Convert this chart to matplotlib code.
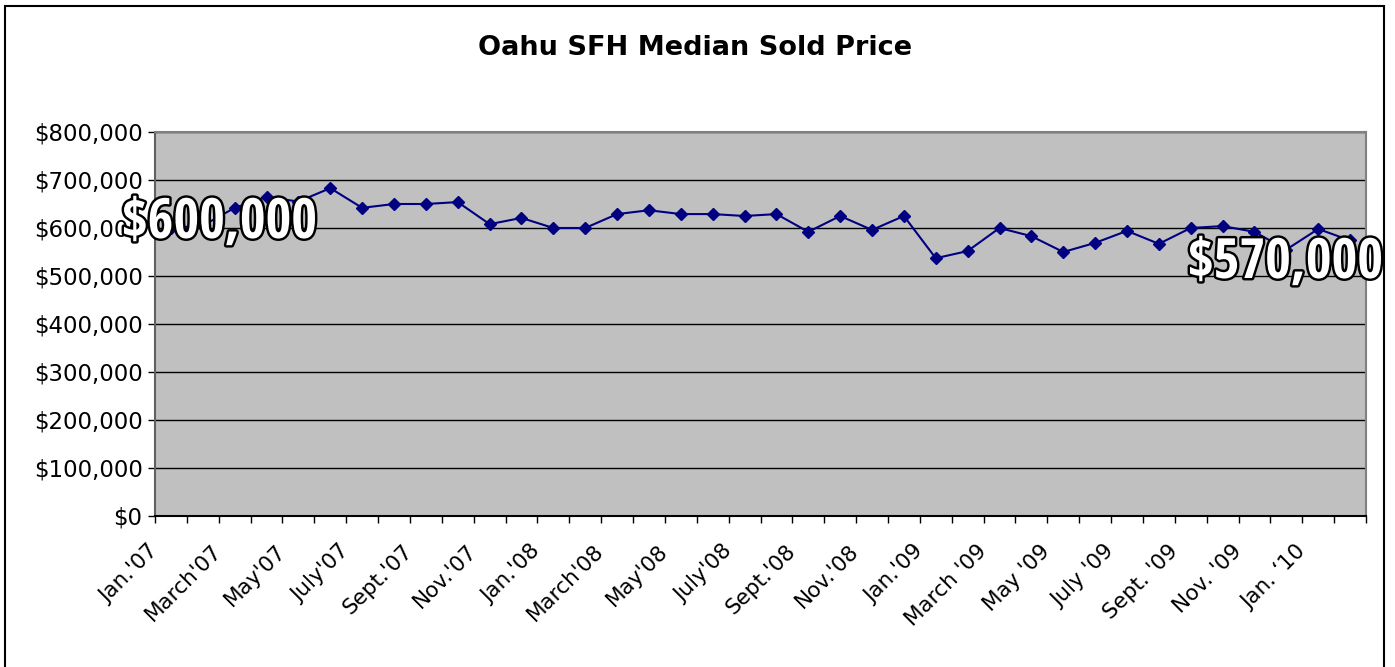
import matplotlib
matplotlib.use('Agg')
import matplotlib.pyplot as plt
import matplotlib.patheffects as pe
from matplotlib import font_manager
from matplotlib.patches import Rectangle
from matplotlib.ticker import FuncFormatter, FixedLocator
from matplotlib.transforms import ScaledTranslation

# Monthly median sold price, Jan '07 .. Feb '10
months = ["Jan.'07", "Feb.'07", "March'07", "April'07", "May'07", "June'07",
          "July'07", "Aug.'07", "Sept.'07", "Oct.'07", "Nov.'07", "Dec.'07",
          "Jan.'08", "Feb.'08", "March'08", "April'08", "May'08", "June'08",
          "July'08", "Aug.'08", "Sept.'08", "Oct.'08", "Nov.'08", "Dec.'08",
          "Jan.'09", "Feb.'09", "March '09", "April '09", "May '09", "June '09",
          "July '09", "Aug. '09", "Sept. '09", "Oct. '09", "Nov. '09", "Dec. '09",
          "Jan. \u201810", "Feb. '10"]
prices = [600000, 605000, 642000, 665000, 655000, 683000,
          642000, 650000, 650000, 654000, 608000, 621000,
          600000, 600000, 629000, 637000, 629000, 629000,
          625000, 629000, 592000, 625000, 596000, 625000,
          537000, 552000, 600000, 583000, 550000, 569000,
          594000, 567000, 600000, 604000, 592000, 555000,
          598000, 574000]
callout_start = "$600,000"
callout_end = "$570,000"
y_ticks = [0, 100000, 200000, 300000, 400000, 500000, 600000, 700000, 800000]


def narrow_bold_font():
    # look for an installed condensed / narrow bold face for the big callouts
    best = None
    for f in font_manager.fontManager.ttflist:
        name = (f.name + ' ' + str(f.stretch) + ' ' + f.fname).lower()
        if ('condensed' in name or 'narrow' in name) and 'semi' not in name and 'extra' not in name:
            if f.weight in ('bold', 700) or 'bold' in f.fname.lower():
                if 'italic' not in f.fname.lower() and 'oblique' not in f.fname.lower():
                    if best is None or 'sans' in f.name.lower():
                        best = f
    if best is not None:
        return font_manager.FontProperties(fname=best.fname, size=40), True
    return font_manager.FontProperties(family='DejaVu Sans', weight='bold', size=28), False


W, H = 1395, 667
fig = plt.figure(figsize=(W / 100, H / 100), dpi=100)
fig.patch.set_facecolor('white')

# outer chart frame
fig.add_artist(Rectangle((5 / W, -0.1), 1379 / W, 1.1 - 6 / H, transform=fig.transFigure,
                         fill=False, edgecolor='black', linewidth=1.5, zorder=0))

ax = fig.add_axes([155 / W, 1 - 516 / H, (1366 - 155) / W, (516 - 132) / H])
ax.set_facecolor('#C0C0C0')

x = list(range(len(prices)))
ax.plot(x, prices, color='#000080', linewidth=1.5, marker='D', markersize=6.2,
        markerfacecolor='#000080', markeredgecolor='#000080', zorder=3)

ax.set_xlim(-0.5, len(prices) - 0.5)
ax.set_ylim(0, 800000)
ax.set_yticks(y_ticks)
ax.yaxis.set_major_formatter(FuncFormatter(lambda v, p: f"${v:,.0f}"))
ax.grid(axis='y', color='black', linewidth=1, zorder=1)
ax.set_axisbelow(True)

# category labels every second month, ticks on category boundaries
ax.set_xticks(x[::2])
ax.set_xticklabels(months[::2])
ax.xaxis.set_minor_locator(FixedLocator([i - 0.5 for i in range(len(prices) + 1)]))
ax.tick_params(axis='x', which='major', length=0, pad=18, labelsize=15.5)
ax.tick_params(axis='x', which='minor', length=5, width=1, direction='out', color='black')
ax.tick_params(axis='y', length=5, width=1, direction='out', pad=4, labelsize=16.5)
shift = ScaledTranslation(-9 / 100, 0, fig.dpi_scale_trans)
for lbl in ax.get_xticklabels():
    lbl.set_rotation(45)
    lbl.set_ha('right')
    lbl.set_transform(lbl.get_transform() + shift)

for side in ['top', 'right']:
    ax.spines[side].set_color('#808080')
    ax.spines[side].set_linewidth(1.5)
ax.spines['left'].set_color('#606060')
ax.spines['left'].set_linewidth(1.5)
ax.spines['bottom'].set_color('black')
ax.spines['bottom'].set_linewidth(1.5)

fig.text(695 / W, 1 - 48 / H, 'Oahu SFH Median Sold Price', ha='center', va='center',
         fontsize=19.5, fontweight='bold')

outline = [pe.withStroke(linewidth=3.5, foreground='black')]
fp, found = narrow_bold_font()
fig.text(122 / W, 1 - 238 / H, callout_start, ha='left', va='baseline', fontproperties=fp,
         color='white', path_effects=outline, zorder=10)
fig.text(1188 / W, 1 - 278 / H, callout_end, ha='left', va='baseline', fontproperties=fp,
         color='white', path_effects=outline, zorder=10)

fig.savefig('out.png', dpi=100)
